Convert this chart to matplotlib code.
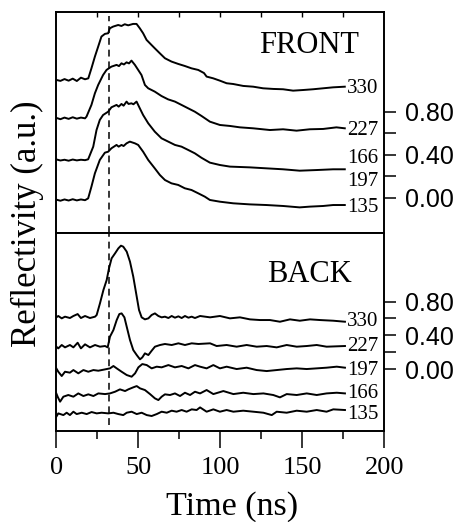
import matplotlib
matplotlib.use("Agg")
import matplotlib.pyplot as plt

# ---------------- data ----------------
# FRONT panel curves (time in ns, reflectivity in a.u., offset traces)
tA = [0, 2.5, 5, 7.5, 10, 12.5, 15, 17.5, 19.5, 21.4, 23.5, 25.5, 27.5, 29.6, 31.6, 32.6, 34.6, 37.7, 39.7,
      41.7, 43.8, 46.8, 48.9, 50.9, 52.9, 55, 58, 60, 63.1, 66.2, 70.2, 74.3, 78.3, 82.4, 86.5, 90, 91.6,
      95.6, 99.7, 103.8, 107.8, 113.9, 120, 126, 132.2, 138.2, 144.3, 150.4, 156.5, 162.6, 168.7, 175.8]
vA = [1.096, 1.087, 1.104, 1.089, 1.108, 1.086, 1.117, 1.102, 1.111, 1.204, 1.313, 1.406, 1.500, 1.525,
      1.531, 1.577, 1.593, 1.608, 1.599, 1.615, 1.605, 1.618, 1.618, 1.577, 1.531, 1.469, 1.422, 1.391,
      1.344, 1.298, 1.267, 1.245, 1.226, 1.204, 1.189, 1.160, 1.127, 1.111, 1.089, 1.065, 1.058, 1.040,
      1.033, 1.018, 1.012, 1.009, 0.996, 1.002, 1.009, 1.018, 1.027, 1.033]

tB = [0, 2.5, 5, 7.5, 10, 12.5, 15, 17.5, 18.4, 21.4, 23.5, 25.5, 28.5, 30.6, 32, 33.6, 36.7, 38.2, 39.7,
      41.2, 42.8, 44.3, 45.8, 47.9, 49.9, 51.9, 54, 56, 60, 64.1, 68.1, 72.3, 76.3, 80.4, 84.4, 88.5, 93.6,
      99.7, 105.8, 111.9, 120, 130.2, 138.2, 146.4, 154.5, 162.6, 170.7, 175.8]
vB = [0.742, 0.730, 0.745, 0.733, 0.748, 0.735, 0.745, 0.738, 0.754, 0.863, 0.971, 1.049, 1.142, 1.189,
      1.204, 1.220, 1.236, 1.225, 1.251, 1.240, 1.260, 1.250, 1.276, 1.236, 1.189, 1.142, 1.049, 1.018,
      0.987, 0.946, 0.915, 0.894, 0.863, 0.831, 0.800, 0.760, 0.707, 0.676, 0.667, 0.654, 0.645, 0.629,
      0.636, 0.623, 0.636, 0.639, 0.654, 0.645]

tC = [0, 2.5, 5, 7.5, 10, 12.5, 15, 17.5, 19.4, 22.5, 24.5, 26.5, 28.5, 31.6, 33.6, 36.7, 38, 39.7, 41,
      42.8, 44, 45.8, 47, 48.9, 50.9, 52.9, 56, 60, 64.1, 68.2, 72.3, 76.3, 80.4, 84.4, 88.5, 93.6, 99.7,
      105.8, 117.9, 128, 138.2, 148.3, 158.5, 168.7, 175.8]
vC = [0.355, 0.345, 0.352, 0.343, 0.354, 0.346, 0.352, 0.348, 0.356, 0.474, 0.629, 0.723, 0.769, 0.800,
      0.841, 0.863, 0.847, 0.872, 0.856, 0.894, 0.872, 0.878, 0.869, 0.894, 0.831, 0.769, 0.692, 0.614,
      0.552, 0.521, 0.490, 0.474, 0.443, 0.412, 0.370, 0.325, 0.303, 0.288, 0.281, 0.272, 0.263, 0.250,
      0.256, 0.263, 0.263]

tD = [0, 2.5, 5, 7.5, 10, 12.5, 15, 17.5, 19.4, 21.4, 23.5, 26.5, 29.6, 31.6, 33.6, 36.7, 38, 39.7, 41,
      42.8, 44.8, 47.9, 49.9, 52.9, 56, 60, 63.1, 66.2, 70.2, 74.3, 78.3, 82.4, 86.5, 90.5, 93.6, 99.7,
      107.8, 117.9, 128, 138.2, 148.3, 154.5, 162.6, 168.7, 175.8]
vD = [-0.020, -0.030, -0.018, -0.028, -0.016, -0.027, -0.018, -0.025, -0.008, 0.101, 0.225, 0.350, 0.418,
      0.427, 0.459, 0.490, 0.474, 0.490, 0.480, 0.505, 0.521, 0.505, 0.490, 0.427, 0.350, 0.272, 0.210,
      0.163, 0.132, 0.117, 0.086, 0.070, 0.039, 0.008, -0.023, -0.039, -0.054, -0.064, -0.070, -0.079,
      -0.092, -0.085, -0.079, -0.070, -0.070]

# BACK panel curves
tE = [0, 1.2, 3.3, 5.3, 8.3, 10.4, 13.0, 15.0, 17.5, 20.5, 23.6, 24.6, 26.6, 28.7, 30.7, 32.1, 33.7, 35.8,
      37.8, 39.4, 40.8, 42.9, 44.9, 46.9, 49.0, 50.4, 52.0, 54.0, 56.1, 58.1, 60.1, 62.2, 64.2, 66.2, 68.3,
      70.3, 72.3, 74.4, 76.4, 78.4, 80.5, 82.5, 84.5, 87.6, 93.7, 99.7, 105.8, 111.9, 118.0, 124.1, 130.2,
      136.3, 142.4, 148.4, 154.6, 160.7, 168.8, 175.9]
vE = [0.613, 0.629, 0.601, 0.621, 0.605, 0.629, 0.652, 0.605, 0.629, 0.605, 0.621, 0.641, 0.779, 0.937,
      1.056, 1.194, 1.313, 1.372, 1.431, 1.463, 1.451, 1.392, 1.273, 1.095, 0.858, 0.700, 0.613, 0.589,
      0.601, 0.641, 0.660, 0.629, 0.613, 0.621, 0.605, 0.629, 0.609, 0.625, 0.605, 0.629, 0.609, 0.621,
      0.605, 0.629, 0.613, 0.629, 0.601, 0.613, 0.589, 0.581, 0.581, 0.561, 0.589, 0.573, 0.589, 0.581,
      0.573, 0.561]

tF = [0, 1.2, 3.3, 5.3, 8.3, 10.4, 13.0, 15.0, 17.5, 20.5, 23.6, 26.6, 29.7, 31.3, 32.7, 34.8, 36.8, 38.4,
      39.8, 41.5, 42.9, 44.9, 46.9, 49.0, 51.0, 52.4, 54.0, 56.1, 58.1, 60.1, 63.2, 66.2, 70.3, 74.4, 78.4,
      82.5, 86.6, 93.7, 97.7, 103.8, 109.9, 116.0, 122.1, 128.2, 134.3, 140.4, 146.5, 152.6, 158.7, 164.7,
      175.9]
vF = [0.265, 0.245, 0.285, 0.257, 0.285, 0.257, 0.312, 0.245, 0.293, 0.257, 0.285, 0.265, 0.273, 0.257,
      0.384, 0.463, 0.581, 0.652, 0.660, 0.613, 0.502, 0.344, 0.225, 0.166, 0.115, 0.138, 0.186, 0.166,
      0.217, 0.265, 0.285, 0.297, 0.285, 0.305, 0.285, 0.305, 0.297, 0.305, 0.273, 0.285, 0.265, 0.285,
      0.265, 0.273, 0.257, 0.285, 0.265, 0.273, 0.285, 0.265, 0.273]

tG = [0, 1.2, 3.3, 5.3, 8.3, 10.4, 13.4, 16.5, 19.5, 22.6, 25.6, 29.7, 32.7, 34.8, 36.8, 39.8, 42.9, 45.9,
      48.0, 50.0, 52.4, 55.1, 58.1, 61.2, 64.2, 68.3, 72.3, 76.4, 80.5, 84.5, 87.6, 91.6, 95.7, 99.7, 103.8,
      109.9, 116.0, 122.1, 128.2, 134.3, 140.4, 146.5, 152.6, 158.7, 164.7, 170.9, 175.9]
vG = [0.008, -0.032, -0.083, -0.032, -0.043, -0.012, -0.051, -0.012, -0.032, -0.012, -0.020, -0.004, 0.008,
      0.036, 0.008, -0.032, -0.071, -0.091, -0.051, 0.020, 0.059, 0.047, 0.008, 0.028, 0.020, 0.047, 0.020,
      0.036, 0.008, 0.047, 0.028, 0.008, 0.047, 0.008, 0.028, 0.000, 0.016, -0.012, -0.024, -0.012, 0.000,
      0.008, 0.000, 0.008, 0.016, 0.028, 0.016]

tH = [0, 0.8, 2.3, 4.3, 7.3, 10.4, 13.4, 16.5, 19.5, 22.6, 25.6, 29.7, 32.7, 35.8, 38.8, 41.9, 43.9, 46.9,
      49.0, 51.0, 54.0, 57.1, 60.1, 62.2, 64.2, 66.2, 69.3, 72.3, 75.4, 78.4, 81.5, 84.5, 87.6, 91.6, 95.7,
      101.8, 107.9, 113.9, 120.1, 126.2, 132.2, 136.3, 140.4, 146.5, 152.6, 158.7, 164.7, 170.9, 175.9]
vH = [-0.289, -0.328, -0.387, -0.328, -0.308, -0.328, -0.289, -0.320, -0.300, -0.320, -0.289, -0.297,
      -0.289, -0.269, -0.241, -0.261, -0.241, -0.217, -0.202, -0.229, -0.249, -0.297, -0.348, -0.368,
      -0.328, -0.300, -0.308, -0.289, -0.320, -0.281, -0.308, -0.269, -0.289, -0.249, -0.297, -0.261,
      -0.297, -0.281, -0.297, -0.289, -0.308, -0.336, -0.297, -0.308, -0.289, -0.308, -0.289, -0.281,
      -0.289]

tI = [0, 1.2, 4.3, 6.3, 8.3, 10.4, 12.4, 15.5, 18.5, 21.5, 24.6, 27.6, 31.7, 34.8, 37.8, 40.8, 42.9, 45.9,
      49.0, 52.0, 55.1, 58.1, 61.2, 64.2, 67.3, 70.3, 73.3, 76.4, 79.4, 82.5, 85.5, 87.6, 91.6, 95.7, 99.7,
      103.8, 107.9, 113.9, 120.1, 126.2, 131.3, 134.3, 140.4, 146.5, 152.6, 158.7, 164.7, 168.8, 175.9]
vI = [-0.565, -0.526, -0.546, -0.518, -0.546, -0.506, -0.534, -0.518, -0.534, -0.510, -0.526, -0.518,
      -0.526, -0.518, -0.534, -0.546, -0.518, -0.506, -0.534, -0.518, -0.546, -0.557, -0.534, -0.506,
      -0.518, -0.494, -0.506, -0.486, -0.506, -0.478, -0.486, -0.455, -0.506, -0.478, -0.506, -0.486,
      -0.506, -0.494, -0.506, -0.518, -0.546, -0.506, -0.518, -0.494, -0.506, -0.486, -0.506, -0.478,
      -0.486]

front_curves = [(tA, vA), (tB, vB), (tC, vC), (tD, vD)]
back_curves = [(tE, vE), (tF, vF), (tG, vG), (tH, vH), (tI, vI)]

front_labels = ["330", "227", "166", "197", "135"]
front_label_y = [1.018, 0.629, 0.366, 0.147, -0.091]
back_labels = ["330", "227", "197", "166", "135"]
back_label_y = [0.561, 0.265, -0.012, -0.288, -0.537]

scale_ticks = [0.0, 0.4, 0.8]
scale_minor = [0.2, 0.6]
scale_ticklabels = ["0.00", "0.40", "0.80"]
x_major = [0, 50, 100, 150, 200]
x_minor = [25, 75, 125, 175]
top_ticks = [25, 50, 75, 100, 125, 150, 175]
onset_time = 32

# ---------------- figure ----------------
SERIF = "Liberation Serif"
SANS = "Liberation Sans"

fig = plt.figure(figsize=(4.56, 5.22), dpi=100)
left, width = 0.1235, 0.7197
ax1 = fig.add_axes([left, 0.5536, width, 0.9776 - 0.5536])
ax2 = fig.add_axes([left, 0.1743, width, 0.5536 - 0.1743])

for ax in (ax1, ax2):
    ax.set_xlim(0, 200)
    for s in ax.spines.values():
        s.set_linewidth(1.4)
    ax.yaxis.tick_right()
    ax.set_yticks(scale_ticks)
    ax.set_yticks(scale_minor, minor=True)
    ax.set_yticklabels(scale_ticklabels, fontfamily=SANS, fontsize=18)
    ax.tick_params(axis='y', which='both', direction='out', length=8.5, width=1.1,
                   left=False, right=True, pad=6)

ax1.set_ylim(-0.331, 1.732)
ax2.set_ylim(-0.735, 1.613)

ax1.set_xticks(top_ticks)
ax1.set_xticks([], minor=True)
ax1.tick_params(axis='x', which='both', top=True, bottom=False, labelbottom=False,
                labeltop=False, direction='in', length=3.5, width=1.0)

ax2.set_xticks(x_major)
ax2.set_xticks(x_minor, minor=True)
ax2.set_xticklabels([str(v) for v in x_major], fontfamily=SERIF, fontsize=19)
ax2.tick_params(axis='x', which='major', direction='out', length=12, width=1.1, pad=7,
                top=False)
ax2.tick_params(axis='x', which='minor', direction='out', length=6, width=1.1, top=False)

for t, v in front_curves:
    ax1.plot(t, v, color='black', lw=1.4)
for t, v in back_curves:
    ax2.plot(t, v, color='black', lw=1.4)

ax1.axvline(onset_time, ymin=0, ymax=0.98, color='black', lw=1.1, dashes=(4.5, 3.2))
ax2.axvline(onset_time, ymin=0.03, ymax=1, color='black', lw=1.1, dashes=(4.5, 3.2))

for lab, y in zip(front_labels, front_label_y):
    ax1.text(177.3, y, lab, fontfamily=SERIF, fontsize=15, ha='left', va='center')
for lab, y in zip(back_labels, back_label_y):
    ax2.text(177.3, y, lab, fontfamily=SERIF, fontsize=15, ha='left', va='center')

ax1.text(123.5, 1.345, "FRONT", fontfamily=SERIF, fontsize=22, ha='left', va='baseline')
ax2.text(128.2, 1.036, "BACK", fontfamily=SERIF, fontsize=22, ha='left', va='baseline')

fig.text(231.7 / 456, 0.0134, "Time (ns)", fontfamily=SERIF, fontsize=24.5,
         ha='center', va='baseline')
fig.text(27 / 456, 1 - 223.5 / 522, "Reflectivity (a.u.)", fontfamily=SERIF, fontsize=25,
         rotation=90, ha='center', va='center')

fig.savefig("out.png", dpi=100)
